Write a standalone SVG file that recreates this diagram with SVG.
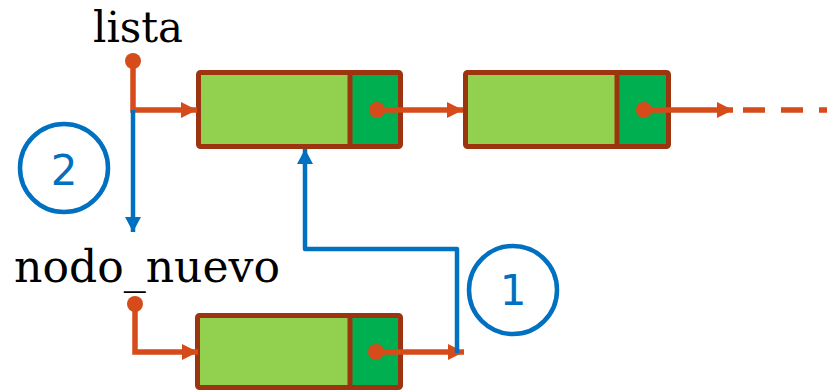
<svg xmlns="http://www.w3.org/2000/svg" width="827" height="391" viewBox="0 0 827 391">
<style>
.box{fill:#92D050;stroke:#9C3410;stroke-width:5}
.ptr{fill:#00B050}
.div{stroke:#9C3410;stroke-width:5}
.dot{fill:#D54B1A}
.or{fill:none;stroke:#D54B1A;stroke-width:5.5}
.bl{fill:none;stroke:#0070C0;stroke-width:4.5}
.lbl{font-family:"DejaVu Serif","Liberation Serif",serif;fill:#000}
.num{font-family:"DejaVu Sans","Liberation Sans",sans-serif;font-size:42px;fill:#0070C0;text-anchor:middle}
.ring{fill:none;stroke:#0070C0;stroke-width:4.5}
</style>
<defs>
<marker id="ao" markerUnits="userSpaceOnUse" markerWidth="16" markerHeight="16" refX="16" refY="8" orient="auto">
<path d="M0,0 L16,8 L0,16 z" fill="#D54B1A"/>
</marker>
<marker id="ab" markerUnits="userSpaceOnUse" markerWidth="16" markerHeight="16" refX="15" refY="8" orient="auto">
<path d="M0,0 L15,8 L0,16 z" fill="#0070C0"/>
</marker>
</defs>
<g id="node1">
<rect class="box" x="198.5" y="72.5" width="202" height="74" rx="2"/>
<rect class="ptr" x="350" y="75" width="48" height="69"/>
<line class="div" x1="350" y1="72.5" x2="350" y2="146.5"/>
</g>
<g id="node2">
<rect class="box" x="465.5" y="72.5" width="203" height="74" rx="2"/>
<rect class="ptr" x="617" y="75" width="49" height="69"/>
<line class="div" x1="617" y1="72.5" x2="617" y2="146.5"/>
</g>
<g id="node3">
<rect class="box" x="197.5" y="315.5" width="203" height="72" rx="2"/>
<rect class="ptr" x="350" y="318" width="48" height="67"/>
<line class="div" x1="350" y1="315.5" x2="350" y2="387.5"/>
</g>
<g id="label-lista">
<text class="lbl" x="138" y="42" font-size="42" text-anchor="middle" textLength="90" lengthAdjust="spacingAndGlyphs">lista</text>
</g>
<g id="label-nodo_nuevo">
<text class="lbl" x="14" y="282" font-size="45" textLength="266" lengthAdjust="spacingAndGlyphs">nodo_nuevo</text>
</g>
<g id="step2">
<circle class="ring" cx="64" cy="168" r="44"/>
<text class="num" x="64" y="185">2</text>
</g>
<g id="step1">
<circle class="ring" cx="513" cy="290" r="44"/>
<text class="num" x="513" y="305">1</text>
</g>
<g id="connectors">
<path class="or" d="M133,61 V110 H197" marker-end="url(#ao)"/>
<path class="or" d="M377,110 H463" marker-end="url(#ao)"/>
<path class="or" d="M644,110 H733" marker-end="url(#ao)"/>
<path class="or" d="M743,110 H827" stroke-dasharray="22 16"/>
<path class="or" d="M135,304 V352 H198" marker-end="url(#ao)"/>
<path class="or" d="M376,352 H464" marker-end="url(#ao)"/>
<path class="bl" d="M133,110 V232" marker-end="url(#ab)"/>
<path class="bl" d="M457,353 V249 H305 V149" stroke-linejoin="round" marker-end="url(#ab)"/>
<circle class="dot" cx="133" cy="61" r="8"/>
<circle class="dot" cx="377" cy="110" r="8"/>
<circle class="dot" cx="644" cy="110" r="8"/>
<circle class="dot" cx="135" cy="304" r="8"/>
<circle class="dot" cx="376" cy="352" r="8"/>
</g>
</svg>
